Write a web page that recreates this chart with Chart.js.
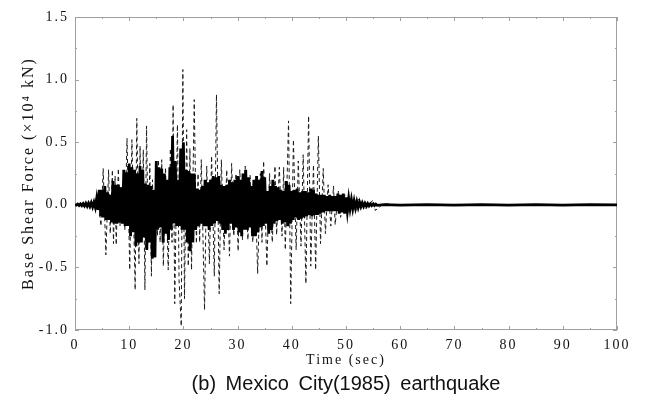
<!DOCTYPE html>
<html>
<head>
<meta charset="utf-8">
<script src="https://cdn.jsdelivr.net/npm/chart.js@4/dist/chart.umd.min.js"></script>
<style>
  html, body { margin: 0; padding: 0; background: #fff; }
  #wrap { position: relative; width: 646px; height: 403px; }
  #shear { position: absolute; left: 0; top: 0; }
  #caption {
    position: absolute; left: 75px; width: 542px; top: 370px;
    text-align: center; font: 20px "Liberation Sans", Arial, sans-serif;
    line-height: 26px; color: #111; word-spacing: 4px;
  }
</style>
</head>
<body>
<div id="wrap">
  <canvas id="shear" width="646" height="403"></canvas>
  <div id="caption">(b) Mexico City(1985) earthquake</div>
</div>
<script>
// solid response: peaks / troughs every 0.5 s from t = 0
const solidStep = 0.5;
const solidUpper = [
  0.003, 0.005, 0.007, 0.009, 0.011, 0.013, 0.016, 0.02,
  0.05, 0.12, 0.12, 0.15, 0.10, 0.08, 0.19, 0.16, 0.16, 0.14,
  0.28, 0.26, 0.33, 0.30, 0.28, 0.25, 0.31, 0.28, 0.17, 0.16,
  0.15, 0.12, 0.35, 0.30, 0.29, 0.25, 0.20, 0.30, 0.55, 0.35,
  0.20, 0.45, 0.50, 0.28, 0.27, 0.25, 0.25, 0.13, 0.12, 0.15,
  0.20, 0.18, 0.20, 0.23, 0.22, 0.23, 0.16, 0.15, 0.16, 0.20,
  0.18, 0.20, 0.23, 0.20, 0.25, 0.28, 0.22, 0.15, 0.20, 0.23,
  0.20, 0.27, 0.22, 0.11, 0.15, 0.20, 0.15, 0.14, 0.12, 0.11,
  0.19, 0.16, 0.11, 0.12, 0.13, 0.10, 0.11, 0.11, 0.10, 0.13,
  0.12, 0.09, 0.08, 0.08, 0.08, 0.07, 0.08, 0.07, 0.07, 0.09,
  0.08, 0.09, 0.06, 0.05, 0.04, 0.03, 0.025, 0.02, 0.015, 0.012,
  0.01, 0.008, 0.006, 0.005
];
const solidLower = [
  -0.003, -0.005, -0.007, -0.009, -0.011, -0.013, -0.016, -0.02,
  -0.04, -0.09, -0.10, -0.12, -0.12, -0.14, -0.15, -0.15, -0.14, -0.15,
  -0.17, -0.17, -0.25, -0.22, -0.33, -0.30, -0.30, -0.26, -0.36, -0.30,
  -0.43, -0.42, -0.20, -0.18, -0.30, -0.23, -0.28, -0.20, -0.15, -0.17,
  -0.17, -0.20, -0.20, -0.30, -0.37, -0.30, -0.20, -0.17, -0.15, -0.17,
  -0.17, -0.20, -0.17, -0.15, -0.13, -0.15, -0.20, -0.23, -0.20, -0.15,
  -0.20, -0.18, -0.22, -0.25, -0.20, -0.20, -0.18, -0.25, -0.25, -0.22,
  -0.18, -0.17, -0.15, -0.23, -0.20, -0.15, -0.13, -0.12, -0.15, -0.14,
  -0.17, -0.15, -0.12, -0.10, -0.12, -0.11, -0.10, -0.09, -0.08, -0.09,
  -0.08, -0.08, -0.07, -0.06, -0.05, -0.05, -0.05, -0.05, -0.05, -0.07,
  -0.06, -0.07, -0.05, -0.03, -0.03, -0.025, -0.02, -0.015, -0.012, -0.01,
  -0.008, -0.006, -0.005, -0.004
];
// solid response after the shaking
const tailTime = [57, 60, 65, 70, 75, 80, 85, 90, 95, 100];
const tailValue = [0.002, -0.002, 0.002, -0.002, 0.002, -0.002, 0.002, -0.002, 0.002, 0];

// dashed response: local extremes (time in s, force in 10^4 kN)
const dashedTime = [
  0, 1, 2, 3, 3.6, 4.2, 4.8, 5.2, 5.7, 6.2, 6.5, 6.9, 7.1, 7.4, 7.6, 8.0, 8.3, 8.6,
  9.2, 9.6, 10.1, 10.5, 11.1, 11.4, 11.8, 12.0, 12.3, 12.6, 12.9, 13.2, 13.5, 13.8,
  14.1, 14.3, 14.5, 15.0, 15.2, 15.4, 15.7, 16.0, 16.3, 16.7, 17.2, 17.6, 17.9, 18.1,
  18.4, 18.9, 19.2, 19.6, 19.9, 20.2, 20.6, 20.9, 21.2, 21.5, 22.0, 22.4, 22.7, 23.0,
  23.3, 23.9, 24.3, 24.8, 25.2, 25.7, 26.1, 26.6, 27.0, 27.5, 28.0, 28.5, 28.9, 29.3,
  29.7, 30.1, 30.4, 30.9, 31.4, 31.9, 32.3, 32.8, 33.2, 33.7, 34.2, 34.5, 34.8, 35.4,
  35.9, 36.4, 36.9, 37.2, 37.7, 38.2, 38.5, 38.8, 39.4, 39.8, 40.3, 40.8, 41.2, 41.7,
  42.1, 42.6, 43.1, 43.5, 44.0, 44.4, 44.9, 45.3, 45.8, 46.2, 46.7, 47.2, 47.7, 48.0,
  48.6, 49.0, 49.8, 50.3, 51.0, 51.8, 52.3, 53.5, 55.0, 55.4, 57, 60, 70, 80, 90, 100
];
const dashedValue = [
  0, 0.005, -0.006, 0.012, -0.02, 0.06, -0.17, 0.29, -0.40, 0.28, -0.23, 0.28, -0.31, 0.23, -0.32, 0.29, -0.17, 0.15,
  -0.20, 0.53, -0.52, 0.52, -0.68, 0.69, -0.47, 0.47, -0.30, 0.44, -0.68, 0.63, -0.30, 0.33,
  -0.57, 0.20, -0.41, 0.25, -0.25, 0.36, -0.30, 0.36, -0.49, 0.30, -0.52, 0.45, -0.30, 0.80,
  -0.79, 0.64, -0.60, -0.97, 1.08, -0.75, 0.60, -0.49, 0.45, -0.52, 0.84, -0.31, 0.25, -0.30,
  0.36, -0.84, 0.31, -0.47, 0.39, -0.57, 0.88, -0.71, 0.36, -0.36, 0.28, -0.41, 0.33, -0.25,
  0.25, -0.37, 0.28, -0.28, 0.31, -0.28, 0.24, -0.30, 0.20, -0.55, 0.25, -0.30, 0.35, -0.49,
  0.25, -0.30, 0.31, -0.24, 0.30, -0.25, 0.30, -0.36, 0.67, -0.79, 0.52, -0.36, 0.35, -0.33,
  0.40, -0.63, 0.71, -0.49, 0.32, -0.52, 0.55, -0.31, 0.29, -0.23, 0.16, -0.17, 0.15, -0.16,
  0.11, -0.10, 0.08, -0.07, 0.05, -0.05, 0.045, -0.04, 0.04, -0.045, 0.01, -0.005, 0.003, -0.003, 0.002, 0
];

const xTicks = [0, 10, 20, 30, 40, 50, 60, 70, 80, 90, 100];
const yTicks = [-1.0, -0.5, 0.0, 0.5, 1.0, 1.5];

const serif = '"Liberation Serif", "Times New Roman", serif';

function solidPoints(){
  const pts = [];
  for(let i=0;i<solidUpper.length;i++){
    const t = i * solidStep;
    pts.push({ x: t, y: solidUpper[i] });
    pts.push({ x: t + solidStep/2, y: solidLower[i] });
  }
  tailTime.forEach((t,i)=>pts.push({ x: t, y: tailValue[i] }));
  return pts;
}

const dashedPoints = dashedTime.map((t,i)=>({ x: t, y: dashedValue[i] }));

// box round the plot with small inward ticks; spaced-out lettering like the scan
const frame = {
  id: 'frame',
  beforeDraw(chart){
    chart.ctx.letterSpacing = '2px';
  },
  beforeDatasetsDraw(chart){
    const { ctx, chartArea: a, scales: { x, y } } = chart;
    ctx.save();
    ctx.strokeStyle = '#a0a0a0';
    ctx.lineWidth = 1;
    ctx.strokeRect(a.left + 0.5, a.top + 0.5, a.right - a.left - 1, a.bottom - a.top - 1);
    ctx.beginPath();
    for(let v=-1; v<=1.5001; v+=0.25){
      const py = Math.round(y.getPixelForValue(v)) + 0.5;
      const len = Math.abs(v*2 - Math.round(v*2)) < 1e-6 ? 4 : 2;
      ctx.moveTo(a.left, py); ctx.lineTo(a.left + len, py);
      ctx.moveTo(a.right, py); ctx.lineTo(a.right - len, py);
    }
    for(let v=0; v<=100; v+=5){
      const px = Math.round(x.getPixelForValue(v)) + 0.5;
      const len = v % 10 === 0 ? 4 : 2;
      ctx.moveTo(px, a.bottom); ctx.lineTo(px, a.bottom - len);
      ctx.moveTo(px, a.top); ctx.lineTo(px, a.top + len);
    }
    ctx.stroke();
    ctx.restore();
  }
};

new Chart(document.getElementById('shear').getContext('2d'), {
  type: 'line',
  data: {
    datasets: [
      {
        label: 'solid',
        data: solidPoints(),
        borderColor: '#000',
        borderWidth: 2.8,
        pointRadius: 0,
        tension: 0,
        order: 0
      },
      {
        label: 'dashed',
        data: dashedPoints,
        borderColor: '#1a1a1a',
        borderWidth: 1,
        borderDash: [4, 3],
        pointRadius: 0,
        tension: 0,
        order: 1
      }
    ]
  },
  options: {
    responsive: false,
    animation: false,
    layout: { padding: { left: 0, top: 17, right: 29, bottom: 33 } },
    plugins: { legend: { display: false }, tooltip: { enabled: false } },
    scales: {
      x: {
        type: 'linear', min: 0, max: 100,
        afterFit: s => { s.height = 40; },
        afterBuildTicks: s => { s.ticks = xTicks.map(v => ({ value: v })); },
        grid: { display: false, drawTicks: false },
        border: { display: false },
        ticks: { color: '#111', padding: 7, font: { family: serif, size: 14 }, maxRotation: 0 },
        title: { display: true, text: 'Time (sec)', color: '#111', padding: { top: 0, bottom: 1 }, font: { family: serif, size: 14 } }
      },
      y: {
        type: 'linear', min: -1, max: 1.5,
        afterFit: s => { s.width = 75; },
        afterBuildTicks: s => { s.ticks = yTicks.map(v => ({ value: v })); },
        grid: { display: false, drawTicks: false },
        border: { display: false },
        ticks: { color: '#111', padding: 6, font: { family: serif, size: 14 }, callback: v => v.toFixed(1) },
        title: { display: true, text: 'Base Shear Force (×10⁴ kN)', color: '#111', padding: { top: 19, bottom: 0 }, font: { family: serif, size: 16 } }
      }
    }
  },
  plugins: [frame]
});
</script>
</body>
</html>
